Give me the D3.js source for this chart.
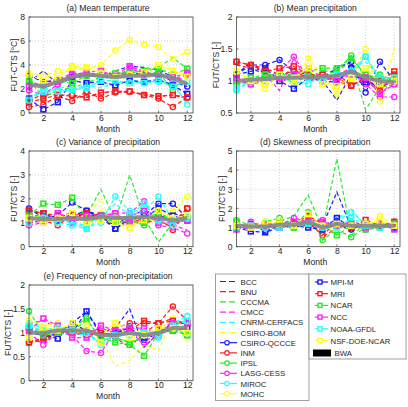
<!DOCTYPE html>
<html><head><meta charset="utf-8">
<script src="https://cdn.jsdelivr.net/npm/d3@7"></script>
<style>body{margin:0;background:#fff}svg{display:block;font-family:Arial,"Liberation Sans",sans-serif}</style>
</head><body><svg id="c" width="408" height="407"></svg>
<script>
const months = [1,2,3,4,5,6,7,8,9,10,11,12];
const models = ["BCC","BNU","CCCMA","CMCC","CNRM-CERFACS","CSIRO-BOM","CSIRO-QCCCE","INM","IPSL","LASG-CESS","MIROC","MOHC","MPI-M","MRI","NCAR","NCC","NOAA-GFDL","NSF-DOE-NCAR","BWA"];
const modelColors = ["#1a1aff","#ff1a1a","#22ee22","#ff22ff","#22ffff","#ffff1a","#1a1aff","#ff1a1a","#22ee22","#ff22ff","#22ffff","#ffff1a","#1a1aff","#ff1a1a","#22ee22","#ff22ff","#22ffff","#ffff1a","#888888"];
const modelMarkers = ["none","none","none","none","none","none","circle","circle","circle","circle","circle","circle","square","square","square","square","square","square","none"];

const meanTemp = [
[2.6,3.5,2.4,2.9,3.1,3.0,3.5,3.9,3.8,3.6,3.0,2.5],
[1.0,1.6,1.5,1.4,1.3,1.7,1.8,1.7,1.6,1.4,1.5,1.2],
[2.8,2.1,2.5,3.0,3.4,3.1,3.2,3.3,3.6,3.8,4.6,3.7],
[2.0,2.6,2.8,3.3,3.2,3.4,3.0,3.7,3.3,3.1,2.9,2.8],
[1.4,1.7,2.2,2.0,2.3,2.1,2.5,2.6,2.5,2.7,2.4,0.8],
[3.4,2.9,3.3,3.6,3.7,3.9,3.2,3.6,3.7,3.9,3.6,3.1],
[3.1,2.6,2.7,3.0,3.2,3.0,2.9,3.4,3.2,3.3,2.6,2.2],
[0.5,0.7,1.4,1.0,1.8,1.2,1.7,1.8,1.5,1.2,0.5,1.3],
[2.7,1.3,1.9,2.1,2.5,3.0,2.9,3.0,3.3,3.4,1.9,3.4],
[1.9,1.5,2.4,3.3,3.2,3.2,2.8,3.8,3.5,3.1,2.8,3.2],
[1.2,1.7,1.8,1.9,2.2,2.6,2.2,2.8,2.5,2.6,2.5,0.7],
[3.3,3.1,3.5,3.8,3.7,4.0,5.2,6.1,5.7,5.5,4.5,5.1],
[1.2,0.3,0.9,2.7,2.5,2.6,2.3,2.7,2.6,2.8,2.3,1.6],
[0.9,1.2,1.5,1.5,1.3,1.7,1.8,1.8,1.5,1.4,1.5,1.3],
[2.6,2.3,2.6,2.5,3.1,3.2,3.3,3.4,3.5,3.7,3.2,3.7],
[2.2,2.4,2.6,3.2,3.4,3.5,3.1,3.9,3.4,3.0,3.0,3.3],
[1.1,2.1,1.8,1.9,2.1,2.7,2.7,2.5,2.5,2.7,2.2,2.6],
[3.2,2.7,2.9,3.9,3.8,3.3,3.0,3.2,3.4,4.0,3.5,3.0],
[2.4,2.2,2.6,3.0,3.2,3.1,3.0,3.1,3.1,3.2,2.9,2.4]];

const meanPrecip = [
[1.1,1.3,1.1,1.0,1.05,1.1,1.0,0.7,1.1,1.0,0.9,1.0],
[1.25,1.2,1.1,1.05,1.2,1.0,1.05,1.1,0.95,1.0,0.85,1.1],
[0.95,1.0,1.05,1.1,1.0,1.05,1.15,1.15,1.3,0.55,0.9,0.95],
[1.05,0.95,1.1,0.85,1.35,1.0,1.1,1.0,1.15,1.05,0.8,1.0],
[0.9,1.05,1.0,1.1,0.95,1.0,1.05,1.0,1.2,1.3,1.05,1.05],
[1.05,1.0,0.9,1.1,1.0,1.3,1.05,0.85,1.1,1.5,0.7,1.52],
[1.1,1.25,1.25,1.33,1.15,1.1,1.05,1.2,1.3,0.82,1.3,1.0],
[1.3,1.25,1.2,1.1,1.15,1.05,1.1,1.0,0.92,1.05,0.85,1.1],
[0.95,1.0,1.1,1.05,1.0,1.1,1.1,1.15,1.4,1.05,1.1,0.95],
[1.0,0.95,1.05,1.15,1.38,1.05,1.0,1.1,1.2,0.95,0.75,0.75],
[0.85,1.0,1.05,1.05,1.0,0.95,1.1,1.05,1.1,1.38,1.0,1.05],
[1.1,1.05,0.88,1.0,0.95,1.35,1.1,0.8,1.0,1.5,0.68,1.05],
[1.1,1.15,1.2,1.0,0.88,1.05,1.0,0.98,1.2,0.98,0.95,1.0],
[1.3,1.25,1.15,1.2,1.23,1.1,1.1,1.05,0.93,1.05,1.0,1.15],
[1.0,1.05,1.1,1.1,1.1,1.15,1.2,1.2,1.35,1.1,1.05,1.05],
[1.05,0.95,1.0,1.05,1.1,1.2,1.05,1.0,1.1,1.05,0.8,0.95],
[0.88,1.0,1.0,1.1,1.05,1.05,1.0,1.1,1.15,1.38,1.05,1.05],
[1.15,1.0,0.95,1.1,1.05,1.2,0.95,0.92,1.05,1.2,0.95,1.0],
[1.0,1.02,1.03,1.05,1.05,1.06,1.07,1.08,1.15,1.05,1.0,0.98]];

const varPrecip = [
[1.3,1.2,1.0,1.2,1.4,1.2,0.9,1.3,1.5,1.2,1.4,1.2],
[1.4,1.2,1.1,1.4,1.3,1.1,1.2,1.2,1.0,1.1,0.8,1.3],
[1.2,1.4,1.2,1.0,1.3,2.4,1.1,3.0,1.2,0.2,1.0,1.3],
[1.1,1.0,1.3,1.2,1.1,1.4,1.3,1.2,1.6,1.1,0.9,0.7],
[1.2,1.3,1.1,1.0,0.9,1.3,1.8,1.3,1.5,1.3,1.2,1.2],
[1.0,1.2,1.3,1.1,1.3,2.0,0.7,1.0,1.3,1.5,1.2,2.1],
[1.6,1.2,1.3,1.85,1.5,1.2,0.75,1.1,1.3,1.8,1.8,1.2],
[1.0,1.1,0.9,1.3,1.2,1.3,1.1,1.0,1.0,1.2,0.7,1.6],
[1.3,1.2,1.1,1.4,1.0,1.2,1.0,1.1,0.9,1.3,1.0,1.1],
[0.9,1.0,1.3,1.4,1.1,1.2,1.4,1.4,1.9,0.9,0.8,0.55],
[1.1,1.3,1.2,1.0,0.8,1.0,2.1,1.5,1.5,2.1,1.1,1.3],
[1.3,1.2,1.0,1.3,1.0,1.4,1.3,0.8,1.2,1.0,1.5,2.1],
[1.5,1.4,1.1,1.3,1.5,1.3,0.75,1.2,1.2,1.6,1.3,1.1],
[1.5,1.4,1.3,1.3,1.4,1.3,1.2,1.2,1.1,1.3,1.0,1.6],
[1.3,1.8,1.75,2.05,1.2,1.3,1.0,1.1,1.0,1.4,1.1,1.2],
[1.1,1.1,1.4,1.0,1.3,1.3,1.4,1.0,1.5,1.0,1.0,1.1],
[1.0,1.2,1.0,0.9,0.75,1.2,1.2,1.3,1.8,1.1,0.9,1.2],
[1.2,1.0,1.2,1.4,1.0,1.1,1.0,0.8,1.1,1.5,1.2,1.3],
[1.2,1.15,1.15,1.2,1.15,1.25,1.2,1.2,1.25,1.2,1.1,1.2]];

const skewPrecip = [
[1.0,0.95,1.1,1.1,1.0,1.2,1.1,2.85,1.0,1.1,1.0,1.1],
[1.1,1.0,1.0,1.2,1.1,1.4,0.5,1.0,1.1,1.2,1.0,1.2],
[1.2,1.0,1.1,1.3,1.6,2.7,0.9,4.6,0.6,1.2,1.1,1.0],
[1.0,1.3,1.0,1.1,1.4,1.0,1.2,0.9,1.4,1.0,1.1,1.0],
[1.2,1.1,1.0,1.2,1.3,1.1,0.9,1.2,1.95,1.1,1.2,1.1],
[1.1,1.2,1.0,1.3,0.8,1.5,1.0,1.1,1.2,1.0,1.4,1.1],
[1.0,1.2,0.8,1.1,1.0,1.2,1.0,1.1,0.9,1.2,1.0,1.2],
[1.0,1.1,1.1,1.2,1.2,1.3,0.6,1.3,1.0,1.1,1.0,1.3],
[1.4,1.1,1.3,1.5,1.1,1.8,0.35,0.9,0.5,1.0,1.2,1.1],
[0.9,1.3,1.0,1.1,1.5,1.3,1.4,1.0,1.3,0.9,1.0,1.2],
[1.1,1.0,1.2,1.1,1.0,1.4,1.0,1.5,1.8,1.2,1.1,1.0],
[1.2,1.1,1.0,1.4,1.0,1.6,1.1,0.8,1.3,1.0,1.6,1.1],
[1.0,0.8,0.75,1.0,1.1,1.0,0.9,1.5,1.0,1.1,1.1,1.0],
[1.1,1.0,1.1,1.2,1.2,1.6,1.2,1.1,1.0,1.4,1.1,1.3],
[1.3,1.0,1.2,1.2,1.0,1.2,1.1,0.6,1.1,0.9,1.0,1.2],
[0.9,1.0,1.1,1.0,1.3,1.4,1.3,1.1,1.2,1.0,1.2,0.9],
[1.0,1.1,1.0,1.0,1.1,1.2,1.0,1.0,1.5,1.1,1.0,1.1],
[1.1,1.0,1.3,1.2,1.1,1.7,1.1,1.2,1.1,1.2,1.3,1.1],
[1.1,1.05,1.05,1.15,1.15,1.3,1.0,1.2,1.1,1.1,1.1,1.1]];

const freqNonPrecip = [
[1.0,0.95,1.1,1.0,1.45,1.0,1.1,1.5,0.7,1.0,1.05,1.1],
[0.85,0.8,1.0,1.05,0.9,1.0,0.9,0.7,1.0,1.2,1.3,1.1],
[1.1,1.05,1.1,1.05,1.1,0.95,0.9,0.8,0.9,1.0,1.1,1.0],
[1.2,1.25,1.1,0.95,1.0,1.1,1.0,1.15,0.7,1.0,1.2,1.25],
[1.0,1.1,1.05,1.0,0.95,0.8,1.0,1.1,1.05,0.95,1.1,1.3],
[1.2,1.0,1.15,1.1,1.0,0.9,0.3,0.42,0.75,0.62,1.35,0.8],
[1.1,0.9,1.0,1.2,1.05,0.95,1.0,1.1,0.85,1.0,1.2,1.2],
[0.8,0.85,1.0,1.1,0.95,1.0,1.1,1.2,1.2,1.2,1.55,1.25],
[1.45,1.0,1.1,1.1,1.3,0.85,0.9,0.8,0.9,1.0,1.1,0.95],
[1.0,0.75,1.0,0.95,0.62,0.58,1.05,1.0,0.8,1.0,1.25,1.2],
[1.2,1.1,1.0,0.95,1.0,0.75,0.9,1.0,1.0,0.9,1.2,1.35],
[1.25,1.15,1.2,0.95,1.1,0.95,1.2,1.1,1.0,1.05,1.3,1.1],
[1.1,0.95,0.88,1.2,1.45,0.95,1.0,1.1,0.9,1.05,1.05,1.1],
[0.8,0.9,1.0,1.0,1.0,1.0,0.95,1.05,1.25,1.2,1.25,1.2],
[1.1,0.95,1.0,1.05,1.25,0.9,0.8,0.75,0.52,1.0,1.05,0.95],
[1.05,1.3,1.15,0.9,0.9,1.15,1.05,1.1,1.1,0.95,1.2,1.2],
[1.15,1.05,1.1,1.05,1.0,0.8,0.95,0.95,1.0,0.95,1.15,1.25],
[0.9,1.1,1.05,1.2,1.15,0.8,1.2,0.9,0.95,1.1,1.1,1.0],
[1.0,1.0,1.05,1.05,1.05,0.95,0.95,1.0,0.95,1.0,1.1,1.1]];

const panelTitles = ["(a) Mean temperature","(b) Mean precipitation","(c) Variance of precipitation","(d) Skewness of precipitation","(e) Frequency of non-precipitation"];
const panelData = [meanTemp, meanPrecip, varPrecip, skewPrecip, freqNonPrecip];
const yDomains = [[0,8],[0.5,2],[0,4],[0,5],[0,2]];
const yTicks = [[0,2,4,6,8],[0.5,1,1.5,2],[0,1,2,3,4],[0,1,2,3,4,5],[0,0.5,1,1.5,2]];
const xTicks = [2,4,6,8,10,12];

const svg = d3.select("#c");
const boxes = [
  {x0:29, x1:193, y0:17, y1:113, yl:12.5},
  {x0:236.5, x1:400, y0:17, y1:113, yl:17.5},
  {x0:29, x1:193, y0:151, y1:246.7, yl:12.5},
  {x0:236.5, x1:400, y0:151, y1:246.7, yl:12},
  {x0:29, x1:193, y0:285, y1:380.7, yl:18}];
const txt = "#262626";

panelData.forEach((data, p) => {
  const b = boxes[p];
  const x = d3.scaleLinear().domain([1,12.4]).range([b.x0,b.x1]);
  const y = d3.scaleLinear().domain(yDomains[p]).range([b.y1,b.y0]);
  const g = svg.append("g");
  g.append("rect").attr("x",b.x0).attr("y",b.y0).attr("width",b.x1-b.x0).attr("height",b.y1-b.y0).attr("fill","#fff");
  g.selectAll(".gx").data(xTicks).enter().append("line")
    .attr("x1",d=>x(d)).attr("x2",d=>x(d)).attr("y1",b.y0).attr("y2",b.y1)
    .attr("stroke","#c8c8c8").attr("stroke-width",0.8).attr("stroke-dasharray","1,2");
  g.selectAll(".gy").data(yTicks[p]).enter().append("line")
    .attr("x1",b.x0).attr("x2",b.x1).attr("y1",d=>y(d)).attr("y2",d=>y(d))
    .attr("stroke","#c8c8c8").attr("stroke-width",0.8).attr("stroke-dasharray","1,2");
  const plot = g.append("g");
  const line = d3.line().x((d,i)=>x(months[i])).y(d=>y(d));
  data.forEach((vals, m) => {
    const c = modelColors[m];
    const isBWA = models[m] === "BWA";
    plot.append("path").attr("d", line(vals)).attr("fill","none")
      .attr("stroke", c).attr("stroke-width", isBWA ? 4 : 1.2)
      .attr("stroke-dasharray", isBWA ? null : "4,2.5").attr("opacity", isBWA ? 0.9 : 1);
    if (modelMarkers[m] === "circle") {
      plot.selectAll(null).data(vals).enter().append("circle")
        .attr("cx",(d,i)=>x(months[i])).attr("cy",d=>y(d)).attr("r",2.6)
        .attr("fill","none").attr("stroke",c).attr("stroke-width",1.3);
    } else if (modelMarkers[m] === "square") {
      plot.selectAll(null).data(vals).enter().append("rect")
        .attr("x",(d,i)=>x(months[i])-2.4).attr("y",d=>y(d)-2.4).attr("width",4.8).attr("height",4.8)
        .attr("fill","none").attr("stroke",c).attr("stroke-width",1.6);
    }
  });
  g.append("rect").attr("x",b.x0).attr("y",b.y0).attr("width",b.x1-b.x0).attr("height",b.y1-b.y0)
    .attr("fill","none").attr("stroke","#444").attr("stroke-width",0.8);
  const xa = g.append("g").attr("transform",`translate(0,${b.y1})`)
    .call(d3.axisBottom(x).tickValues(xTicks).tickSize(0).tickPadding(1.5));
  const ya = g.append("g").attr("transform",`translate(${b.x0},0)`)
    .call(d3.axisLeft(y).tickValues(yTicks[p]).tickSize(0).tickPadding(4).tickFormat(d3.format("")));
  [xa,ya].forEach(a => { a.select(".domain").remove(); a.selectAll("text").attr("font-size","8.6px").attr("fill",txt).attr("font-family","Arial, 'Liberation Sans', sans-serif"); });
  g.selectAll(".tx").data(xTicks).enter().append("line").attr("x1",d=>x(d)).attr("x2",d=>x(d)).attr("y1",b.y1).attr("y2",b.y1-2).attr("stroke","#444").attr("stroke-width",0.7);
  g.selectAll(".ty").data(yTicks[p]).enter().append("line").attr("x1",b.x0).attr("x2",b.x0+2).attr("y1",d=>y(d)).attr("y2",d=>y(d)).attr("stroke","#444").attr("stroke-width",0.7);
  g.append("text").attr("x",(b.x0+b.x1)/2 - 3).attr("y",b.y0-6).attr("text-anchor","middle")
    .attr("font-size","8.6px").attr("fill",txt).text(panelTitles[p]);
  g.append("text").attr("x",(b.x0+b.x1)/2 - 3).attr("y",b.y1+18.5).attr("text-anchor","middle")
    .attr("font-size","8.6px").attr("fill",txt).text("Month");
  const yl = g.append("text").attr("transform",`translate(${b.x0-b.yl},${(b.y0+b.y1)/2}) rotate(-90)`)
    .attr("text-anchor","middle").attr("font-size","8.6px").attr("fill",txt);
  if (p === 0) {
    yl.append("tspan").text("FUT-CTS [");
    yl.append("tspan").attr("baseline-shift","super").attr("font-size","6px").text("o");
    yl.append("tspan").text("C]");
  } else {
    yl.text("FUT/CTS [-]");
  }
});

const leg = svg.append("g");
leg.append("rect").attr("x",215.5).attr("y",274).attr("width",93.5).attr("height",126.5).attr("fill","#fff").attr("stroke","#888").attr("stroke-width",0.8);
leg.append("rect").attr("x",309).attr("y",274).attr("width",97).attr("height",85).attr("fill","#fff").attr("stroke","#888").attr("stroke-width",0.8);
models.forEach((name, m) => {
  const c = modelColors[m];
  let lx, ly, lw;
  if (m < 12) { lx = 220; ly = 281.5 + m*10.2; lw = 17; }
  else if (m < 18) { lx = 315; ly = 282 + (m-12)*11.7; lw = 13; }
  else { lx = 313; ly = 353; lw = 18; }
  const tx = m < 12 ? 240.5 : (m < 18 ? 330.5 : 334.5);
  if (name === "BWA") {
    leg.append("rect").attr("x",lx).attr("y",ly-3.5).attr("width",lw).attr("height",7).attr("fill","#000");
  } else {
    leg.append("line").attr("x1",lx).attr("x2",lx+lw).attr("y1",ly).attr("y2",ly)
      .attr("stroke",c).attr("stroke-width",1.2).attr("stroke-dasharray", m<6 ? "6,3" : null);
    if (modelMarkers[m] === "circle") {
      leg.append("circle").attr("cx",lx+lw/2-1.5).attr("cy",ly).attr("r",2.2).attr("fill","#fff").attr("stroke",c).attr("stroke-width",1.2);
    } else if (modelMarkers[m] === "square") {
      leg.append("rect").attr("x",lx+lw/2-3.5).attr("y",ly-2).attr("width",4).attr("height",4).attr("fill","#fff").attr("stroke",c).attr("stroke-width",1.4);
    }
  }
  leg.append("text").attr("x",tx).attr("y",ly+3).attr("font-size","7.8px").attr("fill",txt).text(name);
});
</script></body></html>
